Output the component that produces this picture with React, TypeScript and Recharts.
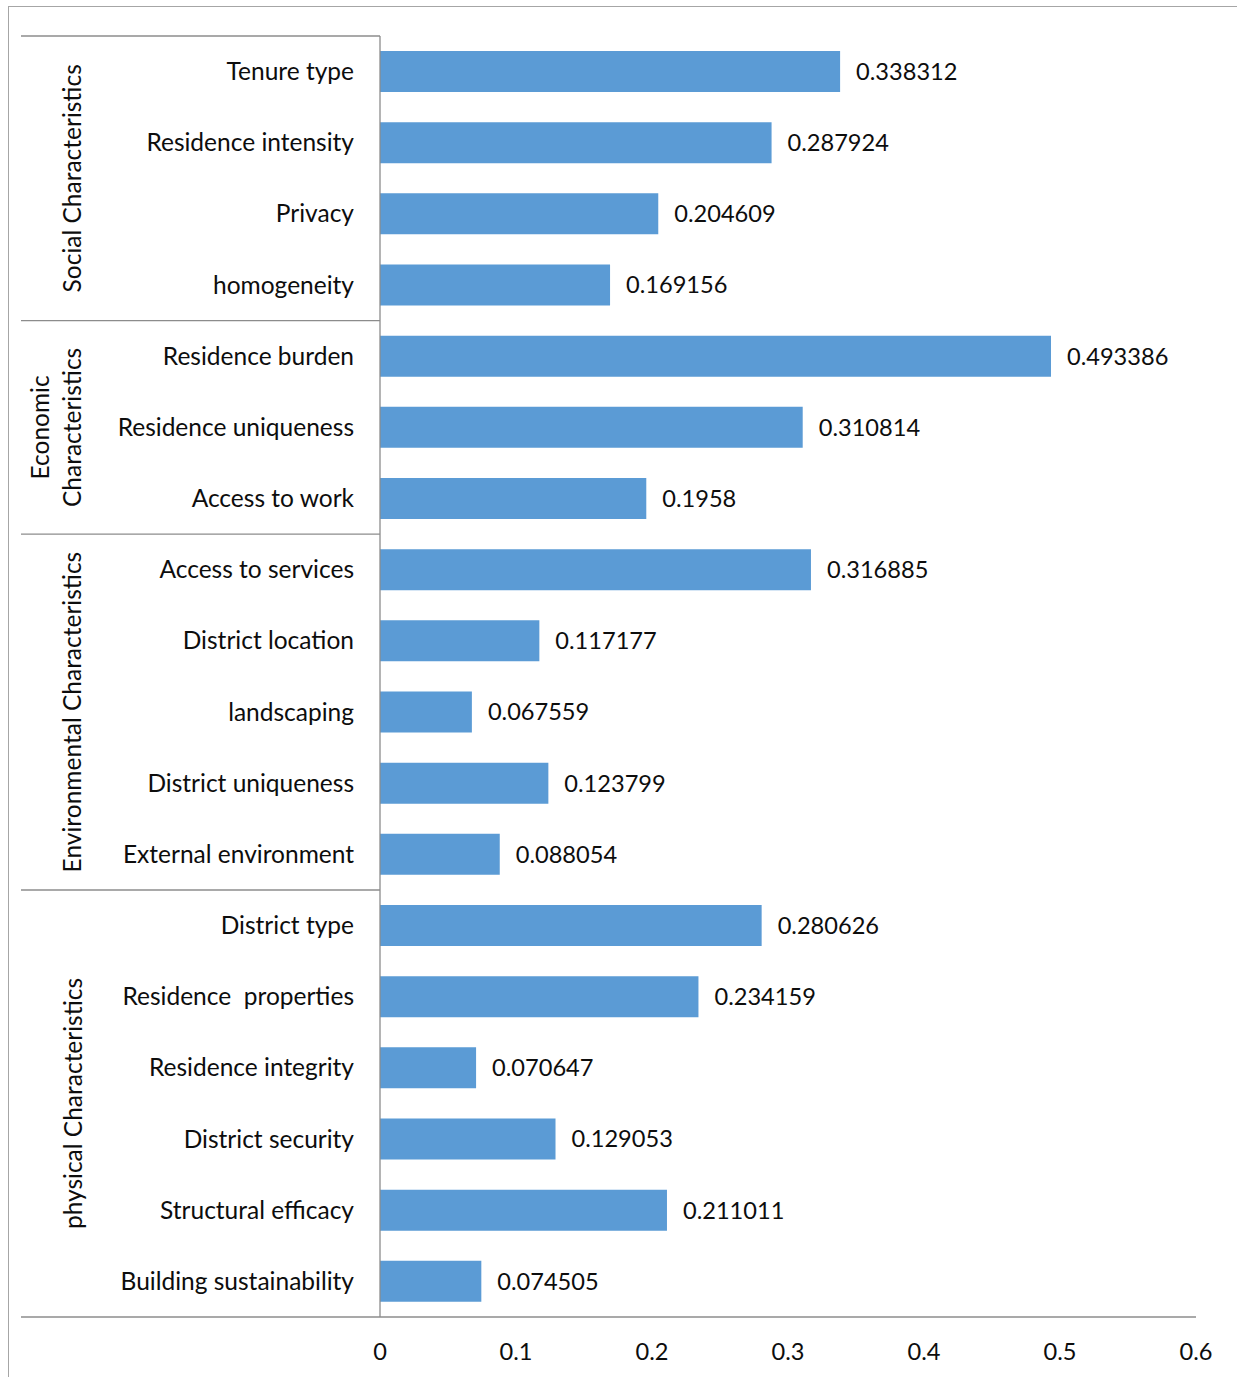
import React from 'react';
import { BarChart, Bar, XAxis, YAxis, LabelList } from 'recharts';

const categories = [
  'Tenure type',
  'Residence intensity',
  'Privacy',
  'homogeneity',
  'Residence burden',
  'Residence uniqueness',
  'Access to work',
  'Access to services',
  'District location',
  'landscaping',
  'District uniqueness',
  'External environment',
  'District type',
  'Residence  properties',
  'Residence integrity',
  'District security',
  'Structural efficacy',
  'Building sustainability',
];

const values = [
  0.338312, 0.287924, 0.204609, 0.169156,
  0.493386, 0.310814, 0.1958,
  0.316885, 0.117177, 0.067559, 0.123799, 0.088054,
  0.280626, 0.234159, 0.070647, 0.129053, 0.211011, 0.074505,
];

const groupOf = [0, 0, 0, 0, 1, 1, 1, 2, 2, 2, 2, 2, 3, 3, 3, 3, 3, 3];

const groupNames: string[][] = [
  ['Social Characteristics'],
  ['Economic', 'Characteristics'],
  ['Environmental Characteristics'],
  ['physical Characteristics'],
];

const xTicks = [0, 0.1, 0.2, 0.3, 0.4, 0.5, 0.6];

const data = categories.map((name, i) => ({ name, value: values[i] }));

const W = 1237;
const H = 1377;
const MARGIN = { top: 36, right: 41, bottom: 0, left: 0 };
const Y_W = 380;
const X_H = 60;
const BAND = (H - MARGIN.top - MARGIN.bottom - X_H) / categories.length;
const FONT = 'Lato, "Open Sans", sans-serif';
const FS = 24.5;
const FS_NUM = 23.6;
const LINE = '#8c8c8c';
const TEXT = '#0d0d0d';
const SEP_X0 = 21;
const GROUP_X = 72;
const GROUP_LINE_GAP = 32;

function CategoryTick(props: any) {
  const { x, y, payload, index } = props;
  const half = BAND / 2;
  const g = groupOf[index];
  const isFirst = index === 0 || groupOf[index - 1] !== g;
  const isLast = index === categories.length - 1;
  const count = groupOf.filter((v) => v === g).length;
  const elems: React.ReactNode[] = [];
  elems.push(
    <text
      key="lbl"
      x={x}
      y={y - 1}
      textAnchor="end"
      dominantBaseline="central"
      fontFamily={FONT}
      fontSize={FS}
      fill={TEXT}
      style={{ whiteSpace: 'pre' }}
    >
      {payload.value}
    </text>
  );
  if (isFirst) {
    const top = y - half;
    elems.push(<line key="sep" x1={SEP_X0} x2={Y_W} y1={top} y2={top} stroke={LINE} strokeWidth={1.3} />);
    const cy = top + (count * BAND) / 2;
    const lines = groupNames[g];
    lines.forEach((ln, k) => {
      const gx = GROUP_X - (lines.length - 1 - k) * GROUP_LINE_GAP;
      elems.push(
        <text
          key={'g' + k}
          x={gx}
          y={cy}
          textAnchor="middle"
          dominantBaseline="central"
          transform={`rotate(-90, ${gx}, ${cy})`}
          fontFamily={FONT}
          fontSize={FS}
          fill={TEXT}
        >
          {ln}
        </text>
      );
    });
  }
  if (isLast) {
    const bottom = y + half;
    elems.push(<line key="bot" x1={SEP_X0} x2={Y_W} y1={bottom} y2={bottom} stroke={LINE} strokeWidth={1.3} />);
  }
  return <g>{elems}</g>;
}

export default function App() {
  return (
    <div style={{ position: 'absolute', left: 0, top: 0, width: W, height: H, background: '#fff', overflow: 'hidden' }}>
      <div
        style={{
          position: 'absolute',
          left: 8,
          top: 6,
          width: W,
          height: H,
          borderTop: '1.5px solid #a6a6a6',
          borderLeft: '1.5px solid #a6a6a6',
        }}
      />
      <div style={{ position: 'absolute', left: 0, top: 0 }}>
        <BarChart width={W} height={H} data={data} layout="vertical" margin={MARGIN}>
          <XAxis
            type="number"
            domain={[0, 0.6]}
            ticks={xTicks}
            tickLine={false}
            tickSize={0}
            tickMargin={26}
            height={X_H}
            axisLine={{ stroke: LINE, strokeWidth: 1.3 }}
            tick={{ fontFamily: FONT, fontSize: FS_NUM, fill: TEXT }}
            tickFormatter={(v: number) => String(v)}
            allowDataOverflow
          />
          <YAxis
            type="category"
            dataKey="name"
            width={Y_W}
            interval={0}
            tickLine={false}
            tickSize={0}
            tickMargin={26}
            axisLine={{ stroke: LINE, strokeWidth: 1.3 }}
            tick={<CategoryTick />}
          />
          <Bar dataKey="value" fill="#5B9BD5" barSize={41} isAnimationActive={false}>
            <LabelList
              dataKey="value"
              position="right"
              offset={16}
              fill={TEXT}
              fontFamily={FONT}
              fontSize={FS_NUM}
            />
          </Bar>
        </BarChart>
      </div>
    </div>
  );
}
